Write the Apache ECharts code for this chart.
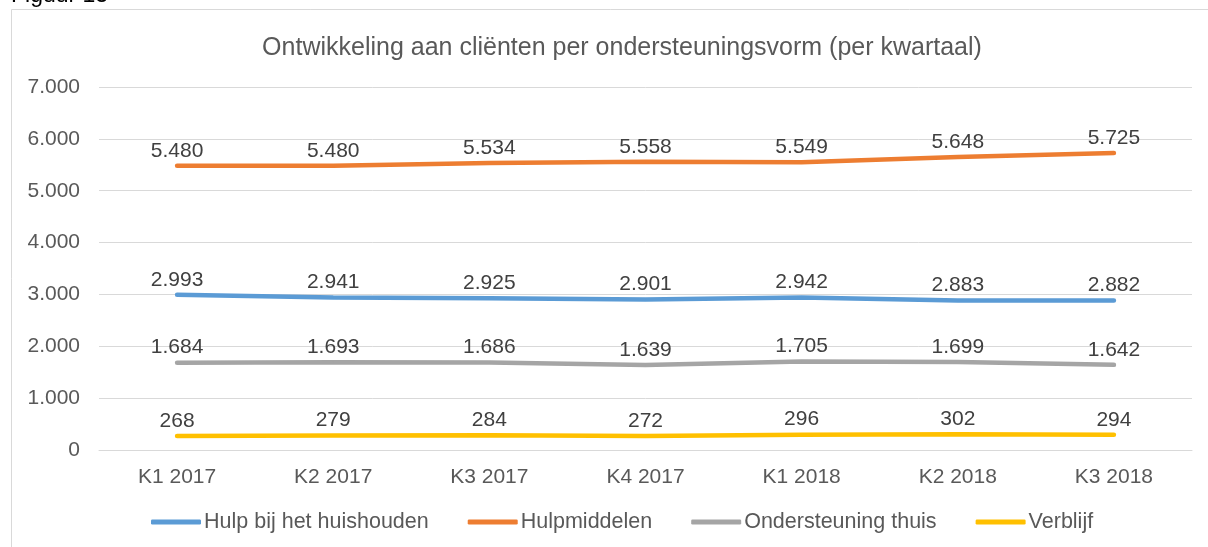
<!DOCTYPE html>
<html>
<head>
<meta charset="utf-8">
<script src="https://cdn.jsdelivr.net/npm/echarts@6/dist/echarts.min.js"></script>
<style>
  html, body { margin: 0; padding: 0; background: #ffffff; }
  #chart { width: 1208px; height: 547px; }
</style>
</head>
<body>
<div id="chart"></div>
<script>
const kwartalen = ['K1 2017', 'K2 2017', 'K3 2017', 'K4 2017', 'K1 2018', 'K2 2018', 'K3 2018']
const hulpHuishouden = [2993, 2941, 2925, 2901, 2942, 2883, 2882]
const hulpmiddelen = [5480, 5480, 5534, 5558, 5549, 5648, 5725]
const ondersteuningThuis = [1684, 1693, 1686, 1639, 1705, 1699, 1642]
const verblijf = [268, 279, 284, 272, 296, 302, 294]
const reeksNamen = ['Hulp bij het huishouden', 'Hulpmiddelen', 'Ondersteuning thuis', 'Verblijf']

const FONT = '"Liberation Sans", Arial, sans-serif'

// Nederlandse notatie: punt als duizendtal-scheiding
const fmt = v => String(v).replace(/\B(?=(\d{3})+(?!\d))/g, '.')

const makeSeries = (name, data, color) => ({
  name,
  type: 'line',
  data,
  symbol: 'circle',
  symbolSize: 1,
  showSymbol: true,
  lineStyle: { color, width: 4.5, cap: 'round' },
  itemStyle: { color },
  label: {
    show: true,
    position: 'top',
    distance: 4,
    color: '#404040',
    fontSize: 21,
    fontFamily: FONT,
    formatter: p => fmt(p.value)
  },
  emphasis: { disabled: true }
})

const chart = echarts.init(document.getElementById('chart'))

chart.setOption({
  backgroundColor: '#ffffff',
  animation: false,
  graphic: [
    {
      type: 'rect',
      shape: { x: 11.5, y: 9.5, width: 1400, height: 700 },
      style: { fill: 'none', stroke: '#d9d9d9', lineWidth: 1 }
    },
    {
      type: 'text',
      left: 11,
      top: -16,
      style: { text: 'Figuur 13', fontSize: 23, fontFamily: FONT, fill: '#000000' }
    }
  ],
  title: {
    text: 'Ontwikkeling aan cliënten per ondersteuningsvorm (per kwartaal)',
    left: 617,
    textAlign: 'center',
    top: 31,
    textStyle: { color: '#595959', fontSize: 25, fontWeight: 'normal', fontFamily: FONT }
  },
  legend: {
    left: 146,
    top: 506,
    itemWidth: 50,
    itemHeight: 5,
    itemGap: 39,
    icon: 'roundRect',
    selectedMode: false,
    textStyle: { color: '#595959', fontSize: 21.5, fontFamily: FONT, padding: [0, 0, 0, -2] },
    data: reeksNamen
  },
  grid: { left: 99, right: 16, top: 87, bottom: 97 },
  xAxis: {
    type: 'category',
    data: kwartalen,
    boundaryGap: true,
    axisTick: { show: false },
    axisLine: { lineStyle: { color: '#d9d9d9', width: 1 } },
    axisLabel: { color: '#595959', fontSize: 21, fontFamily: FONT, margin: 17 }
  },
  yAxis: {
    type: 'value',
    min: 0,
    max: 7000,
    interval: 1000,
    axisLine: { show: false },
    axisTick: { show: false },
    splitLine: { lineStyle: { color: '#d9d9d9', width: 1 } },
    axisLabel: { color: '#595959', fontSize: 21, fontFamily: FONT, margin: 19, formatter: fmt }
  },
  series: [
    makeSeries(reeksNamen[0], hulpHuishouden, '#5b9bd5'),
    makeSeries(reeksNamen[1], hulpmiddelen, '#ed7d31'),
    makeSeries(reeksNamen[2], ondersteuningThuis, '#a5a5a5'),
    makeSeries(reeksNamen[3], verblijf, '#ffc000')
  ]
})
</script>
</body>
</html>
